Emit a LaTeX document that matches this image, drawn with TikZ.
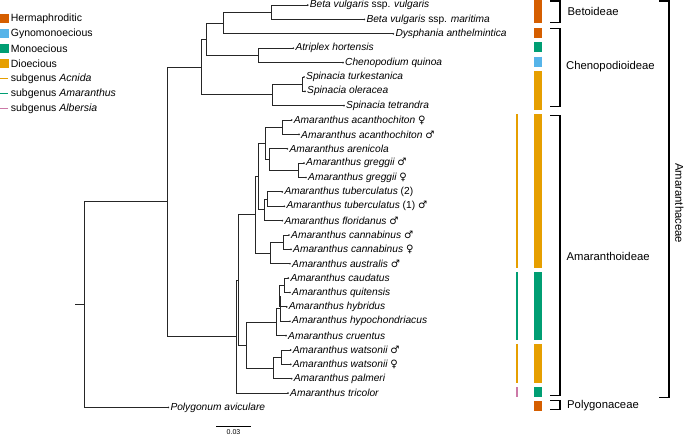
\documentclass[tikz,border=0pt]{standalone}
\usepackage{fontspec}
\setmainfont{Liberation Sans}
\newfontfamily\symf{DejaVu Sans}
\definecolor{cherm}{HTML}{D55E00}
\definecolor{cgyno}{HTML}{56B4E9}
\definecolor{cmono}{HTML}{009E73}
\definecolor{cdio}{HTML}{E69F00}
\definecolor{calb}{HTML}{CC79A7}
\newcommand\fem{{\symf\upshape ♀}}
\newcommand\mal{{\symf\upshape ♂}}
\newcommand\myleaf[4]{\coordinate (#1) at (#2,#3); \fill[black!85] (#1) circle (0.95); \node[lab] (#1l) at ([xshift=2pt]#1) {#4};}
\tikzset{
  br/.style={line width=0.9pt, draw=black!85},
  lab/.style={anchor=west, inner sep=0pt, font=\fontsize{10.2}{12}\selectfont\itshape},
  leg/.style={anchor=west, inner sep=0pt, font=\fontsize{10.5}{12}\selectfont},
  grp/.style={anchor=west, inner sep=0pt, font=\fontsize{11.3}{13}\selectfont},
  brk/.style={line width=1.3pt, draw=black},
  sexbar/.style={line width=8pt, line cap=butt},
  subbar/.style={line width=2pt, line cap=butt},
}
\begin{document}
\begin{tikzpicture}[x=1pt,y=-1pt]
\useasboundingbox (0,0) rectangle (685,436);
% legend
\fill[cherm] (0,14) rectangle (9,23); \node[leg] (lg1) at (10.7,18.5) {Hermaphroditic};
\fill[cgyno] (0,29) rectangle (9,38); \node[leg] (lg2) at (10.7,33.5) {Gynomonoecious};
\fill[cmono] (0,44) rectangle (9,53); \node[leg] (lg3) at (10.7,48.5) {Monoecious};
\fill[cdio] (0,59) rectangle (9,68); \node[leg] (lg4) at (10.7,63.5) {Dioecious};
\draw[cdio,line width=1.8pt] (0,78.5) -- (8,78.5); \node[leg] (lg5) at (10.7,78.5) {subgenus \textit{Acnida}};
\draw[cmono,line width=1.8pt] (0,93.5) -- (8,93.5); \node[leg] (lg6) at (10.7,93.5) {subgenus \textit{Amaranthus}};
\draw[calb,line width=1.8pt] (0,108.5) -- (8,108.5); \node[leg] (lg7) at (10.7,108.5) {subgenus \textit{Albersia}};
% leaves
\myleaf{t0}{307.7}{5.1}{Beta vulgaris \textup{ssp.} vulgaris}
\myleaf{t1}{364.3}{19.47}{Beta vulgaris \textup{ssp.} maritima}
\myleaf{t2}{393.3}{33.84}{Dysphania anthelmintica}
\myleaf{t3}{293.3}{48.21}{Atriplex hortensis}
\myleaf{t4}{343}{62.58}{Chenopodium quinoa}
\myleaf{t5}{304}{76.95}{Spinacia turkestanica}
\myleaf{t6}{305}{91.32}{Spinacia oleracea}
\myleaf{t7}{344}{105.69}{Spinacia tetrandra}
\myleaf{t8}{291.7}{120.06}{Amaranthus acanthochiton \fem}
\myleaf{t9}{299}{134.43}{Amaranthus acanthochiton \mal}
\myleaf{t10}{287.3}{148.8}{Amaranthus arenicola}
\myleaf{t11}{304}{163.17}{Amaranthus greggii \mal}
\myleaf{t12}{306}{177.54}{Amaranthus greggii \fem}
\myleaf{t13}{282.3}{191.91}{Amaranthus tuberculatus \textup{(2)}}
\myleaf{t14}{284.3}{206.28}{Amaranthus tuberculatus \textup{(1)} \mal}
\myleaf{t15}{282.3}{220.65}{Amaranthus floridanus \mal}
\myleaf{t16}{289}{235.02}{Amaranthus cannabinus \mal}
\myleaf{t17}{291}{249.39}{Amaranthus cannabinus \fem}
\myleaf{t18}{290}{263.76}{Amaranthus australis \mal}
\myleaf{t19}{288.3}{278.13}{Amaranthus caudatus}
\myleaf{t20}{290}{292.5}{Amaranthus quitensis}
\myleaf{t21}{286.7}{306.87}{Amaranthus hybridus}
\myleaf{t22}{290}{321.24}{Amaranthus hypochondriacus}
\myleaf{t23}{286}{335.61}{Amaranthus cruentus}
\myleaf{t24}{290.7}{349.98}{Amaranthus watsonii \mal}
\myleaf{t25}{290.7}{364.35}{Amaranthus watsonii \fem}
\myleaf{t26}{291.7}{378.72}{Amaranthus palmeri}
\myleaf{t27}{288}{393.09}{Amaranthus tricolor}
\myleaf{t28}{168.3}{407.46}{Polygonum aviculare}
% internal nodes
\coordinate (nBeta) at (271,12.29);
\coordinate (nBD) at (223,23.07);
\coordinate (nAC) at (258.3,55.4);
\coordinate (nBDAC) at (206.7,39.2);
\coordinate (nSto) at (302.5,84.1);
\coordinate (nSp) at (272.7,94.9);
\coordinate (nCh) at (201,67.05);
\coordinate (nAcan) at (282.3,127.2);
\coordinate (nGreg) at (298.3,170.4);
\coordinate (nAG) at (269,159.6);
\coordinate (nAAG) at (265.7,143.4);
\coordinate (nTub) at (267.7,199.1);
\coordinate (nTF) at (264.3,209.9);
\coordinate (nUp) at (258.3,176.6);
\coordinate (nCan) at (283.3,242.2);
\coordinate (nCA) at (270.7,253);
\coordinate (nAcn) at (255,214.8);
\coordinate (nCQ) at (284.3,285.3);
\coordinate (nCQH) at (279.3,296.1);
\coordinate (nCQHH) at (280.5,308.7);
\coordinate (nHyb) at (276,322.2);
\coordinate (nWat) at (281.7,357.2);
\coordinate (nWP) at (273.3,368);
\coordinate (nAmWat) at (246.7,345.1);
\coordinate (nAm) at (238.5,280);
\coordinate (nAmar) at (236,336.5);
\coordinate (nAth) at (167,201.8);
\coordinate (nRoot) at (84,304.6);
\coordinate (rStub) at (75,304.6);
% edges
\draw[br] (nBeta) |- (t0); \draw[br] (nBeta) |- (t1);
\draw[br] (nBD) |- (nBeta); \draw[br] (nBD) |- (t2);
\draw[br] (nAC) |- (t3); \draw[br] (nAC) |- (t4);
\draw[br] (nBDAC) |- (nBD); \draw[br] (nBDAC) |- (nAC);
\draw[br] (nSto) |- (t5); \draw[br] (nSto) |- (t6);
\draw[br] (nSp) |- (nSto); \draw[br] (nSp) |- (t7);
\draw[br] (nCh) |- (nBDAC); \draw[br] (nCh) |- (nSp);
\draw[br] (nAcan) |- (t8); \draw[br] (nAcan) |- (t9);
\draw[br] (nGreg) |- (t11); \draw[br] (nGreg) |- (t12);
\draw[br] (nAG) |- (t10); \draw[br] (nAG) |- (nGreg);
\draw[br] (nAAG) |- (nAcan); \draw[br] (nAAG) |- (nAG);
\draw[br] (nTub) |- (t13); \draw[br] (nTub) |- (t14);
\draw[br] (nTF) |- (nTub); \draw[br] (nTF) |- (t15);
\draw[br] (nUp) |- (nAAG); \draw[br] (nUp) |- (nTF);
\draw[br] (nCan) |- (t16); \draw[br] (nCan) |- (t17);
\draw[br] (nCA) |- (nCan); \draw[br] (nCA) |- (t18);
\draw[br] (nAcn) |- (nUp); \draw[br] (nAcn) |- (nCA);
\draw[br] (nCQ) |- (t19); \draw[br] (nCQ) |- (t20);
\draw[br] (nCQH) |- (nCQ); \draw[br] (nCQH) |- (t21);
\draw[br] (nCQHH) |- (nCQH); \draw[br] (nCQHH) |- (t22);
\draw[br] (nHyb) |- (nCQHH); \draw[br] (nHyb) |- (t23);
\draw[br] (nWat) |- (t24); \draw[br] (nWat) |- (t25);
\draw[br] (nWP) |- (nWat); \draw[br] (nWP) |- (t26);
\draw[br] (nAmWat) |- (nHyb); \draw[br] (nAmWat) |- (nWP);
\draw[br] (nAm) |- (nAcn); \draw[br] (nAm) |- (nAmWat);
\draw[br] (nAmar) |- (nAm); \draw[br] (nAmar) |- (t27);
\draw[br] (nAth) |- (nCh); \draw[br] (nAth) |- (nAmar);
\draw[br] (nRoot) |- (nAth); \draw[br] (nRoot) |- (t28);
\draw[br] (rStub) -- (nRoot);
% sexual system bars
\draw[sexbar,cherm] (538.3,-0.9) -- (538.3,23.47);
\draw[sexbar,cherm] (538.3,27.84) -- (538.3,37.84);
\draw[sexbar,cmono] (538.3,42.21) -- (538.3,52.21);
\draw[sexbar,cgyno] (538.3,56.58) -- (538.3,66.58);
\draw[sexbar,cdio] (538.3,70.95) -- (538.3,109.69);
\draw[sexbar,cdio] (538.3,114.06) -- (538.3,267.76);
\draw[sexbar,cmono] (538.3,272.13) -- (538.3,339.61);
\draw[sexbar,cdio] (538.3,343.98) -- (538.3,382.72);
\draw[sexbar,cmono] (538.3,387.09) -- (538.3,397.09);
\draw[sexbar,cherm] (538.3,401.46) -- (538.3,411.46);
% subgenus bars
\draw[subbar,cdio] (517.3,114.06) -- (517.3,267.76);
\draw[subbar,cmono] (517.3,272.13) -- (517.3,339.61);
\draw[subbar,cdio] (517.3,343.98) -- (517.3,382.72);
\draw[subbar,calb] (517.3,387.09) -- (517.3,397.09);
% brackets
\draw[brk] (550,1) -- (560,1) -- (560,22.5) -- (550,22.5);
\node[grp] (gBet) at (567.5,11.7) {Betoideae};
\draw[brk] (550,28.5) -- (560,28.5) -- (560,106.5) -- (550,106.5);
\node[grp] (gChe) at (566,67) {Chenopodioideae};
\draw[brk] (550,115.5) -- (560,115.5) -- (560,395.5) -- (550,395.5);
\node[grp] (gAmo) at (566.5,256.7) {Amaranthoideae};
\draw[brk] (550,400.5) -- (560,400.5) -- (560,409.5) -- (550,409.5);
\node[grp] (gPol) at (567,406) {Polygonaceae};
\draw[brk] (659,1) -- (669,1) -- (669,397.5) -- (659,397.5);
\node[grp,anchor=center,rotate=-90] (gAth) at (679.5,203.3) {Amaranthaceae};
% scale bar
\coordinate (sbA) at (216,426);
\coordinate (sbB) at (251,426);
\draw[line width=0.9pt] (sbA) -- (sbB);
\node[inner sep=0pt,font=\fontsize{7}{8}\selectfont] (sbl) at (233.5,432.5) {0.03};
\end{tikzpicture}
\end{document}
